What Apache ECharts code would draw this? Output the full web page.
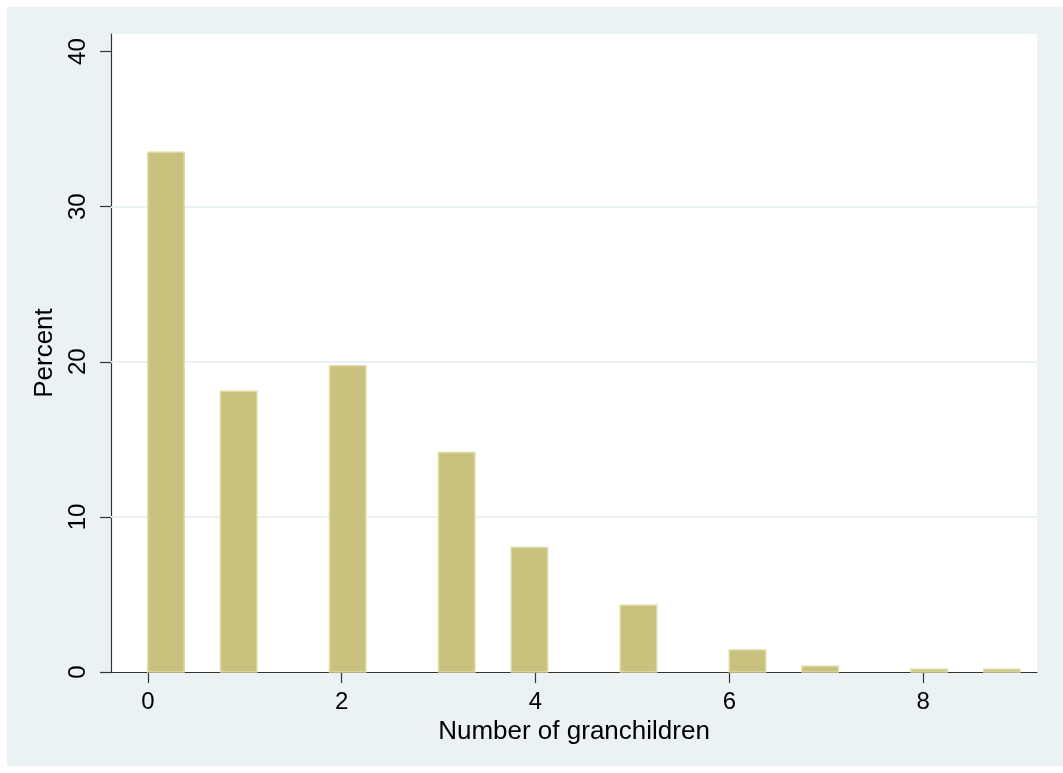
<!DOCTYPE html>
<html>
<head>
<meta charset="utf-8">
<script src="https://cdn.jsdelivr.net/npm/echarts@6/dist/echarts.min.js"></script>
<style>
html,body{margin:0;padding:0;background:#ffffff;}
#chart{width:1063px;height:773px;}
</style>
</head>
<body>
<div id="chart"></div>
<script>
// Number of grandchildren values and their histogram bins (Stata, 24 bins of width 0.375 over 0..9)
const grandchildren = [0, 1, 2, 3, 4, 5, 6, 7, 8, 9];
const binLo = [0, 0.75, 1.875, 3.0, 3.75, 4.875, 6.0, 6.75, 7.875, 8.625];
const binHi = [0.375, 1.125, 2.25, 3.375, 4.125, 5.25, 6.375, 7.125, 8.25, 9.0];
const percent = [33.5, 18.1, 19.75, 14.15, 8.03, 4.3, 1.42, 0.37, 0.17, 0.17];
const xTicks = [0, 2, 4, 6, 8];
const yTicks = [0, 10, 20, 30, 40];
const gridValues = [10, 20, 30];

const chart = echarts.init(document.getElementById('chart'));
const FONT = '"Liberation Sans", Arial, sans-serif';
const data = grandchildren.map((g, i) => [binLo[i], binHi[i], percent[i], g]);

chart.setOption({
  backgroundColor: '#ffffff',
  animation: false,
  graphic: [{
    type: 'rect', z: -10, silent: true,
    shape: { x: 7, y: 7, width: 1056, height: 759 },
    style: { fill: '#EAF2F3' }
  }],
  grid: {
    left: 111, top: 34, right: 26, bottom: 101,
    show: true, backgroundColor: '#ffffff', borderWidth: 0
  },
  xAxis: {
    type: 'value', min: -0.38, max: 9.175,
    name: 'Number of granchildren', nameLocation: 'middle', nameGap: 40,
    nameTextStyle: { fontFamily: FONT, fontSize: 26, color: '#000' },
    axisLine: { show: true, onZero: false, lineStyle: { color: '#333', width: 1.2 } },
    axisTick: { show: true, length: 11, customValues: xTicks, lineStyle: { color: '#333', width: 1.2 } },
    axisLabel: { customValues: xTicks, margin: 18, fontFamily: FONT, fontSize: 24, color: '#000' },
    splitLine: { show: false }
  },
  yAxis: {
    type: 'value', min: 0, max: 41.13,
    name: 'Percent', nameLocation: 'middle', nameGap: 46,
    nameTextStyle: { fontFamily: FONT, fontSize: 26, color: '#000' },
    axisLine: { show: true, onZero: false, lineStyle: { color: '#333', width: 1.2 } },
    axisTick: { show: true, length: 11, customValues: yTicks, lineStyle: { color: '#333', width: 1.2 } },
    axisLabel: { customValues: yTicks, rotate: 90, margin: 21, fontFamily: FONT, fontSize: 24, color: '#000' },
    splitLine: { show: false }
  },
  series: [{
    type: 'line', data: [], silent: true, z: 1,
    markLine: {
      silent: true, symbol: 'none', z: 1,
      label: { show: false },
      lineStyle: { color: '#EAF2F3', width: 2, type: 'solid' },
      data: gridValues.map(v => ({ yAxis: v }))
    }
  }, {
    type: 'custom', z: 5,
    data: data,
    encode: { x: [0, 1], y: 2 },
    renderItem: function (params, api) {
      const p0 = api.coord([api.value(0), 0]);
      const p1 = api.coord([api.value(1), api.value(2)]);
      return {
        type: 'rect',
        shape: { x: p0[0], y: p1[1], width: p1[0] - p0[0], height: p0[1] - p1[1] },
        style: { fill: '#C9C27E', stroke: '#DEDAA6', lineWidth: 1.5 }
      };
    }
  }]
});
</script>
</body>
</html>
